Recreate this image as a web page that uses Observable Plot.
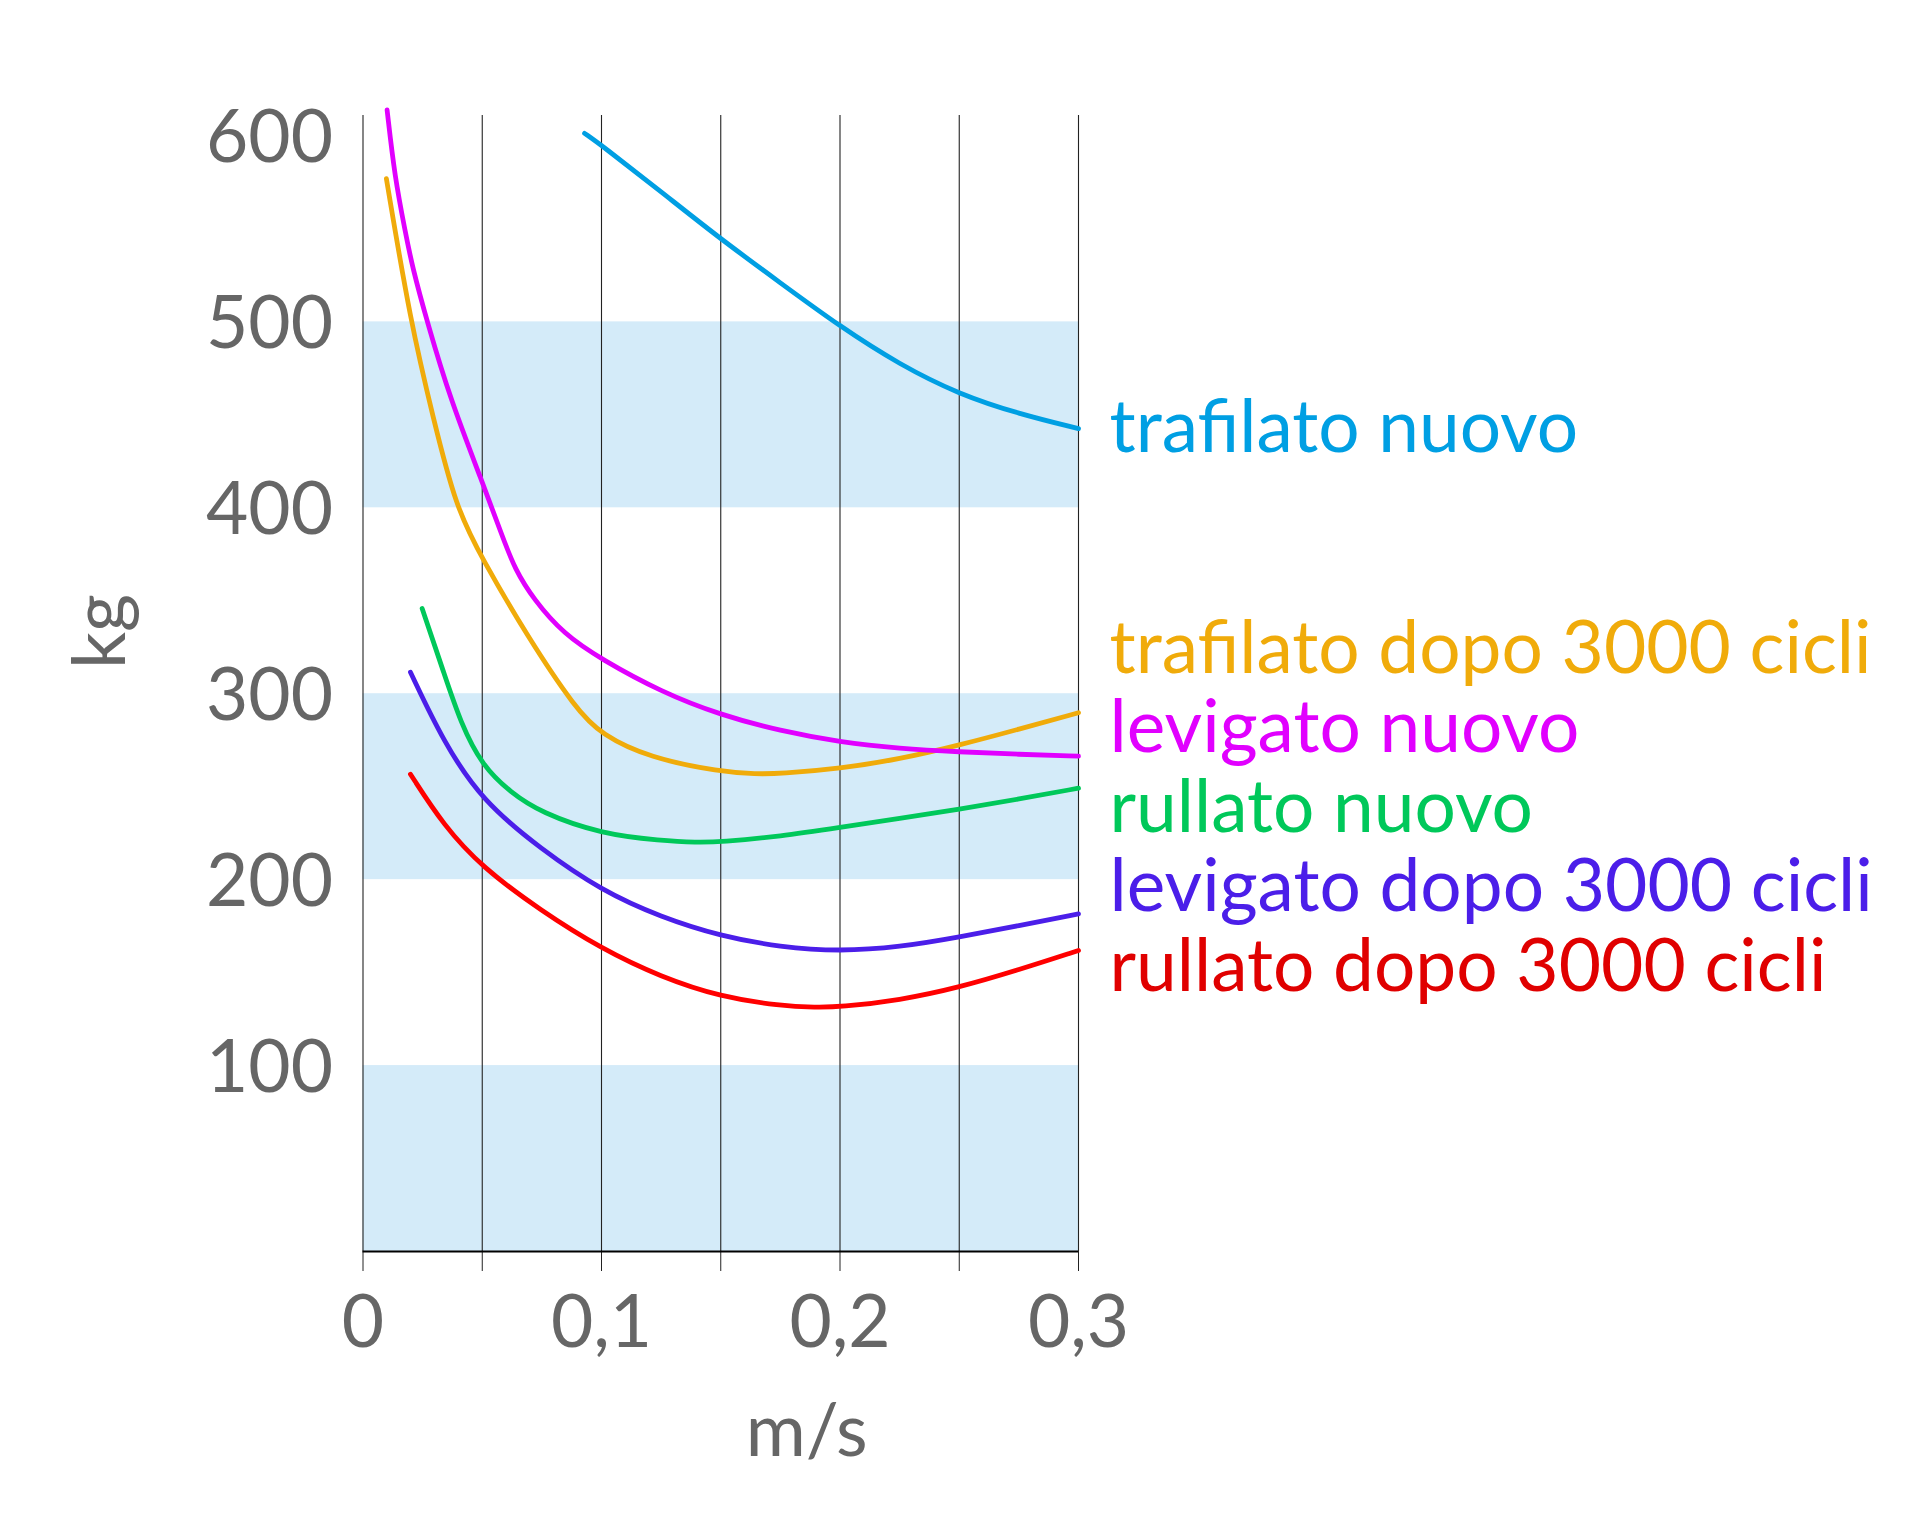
<!DOCTYPE html>
<html>
<head>
<meta charset="utf-8">
<script src="https://cdn.jsdelivr.net/npm/d3@7"></script>
<script src="https://cdn.jsdelivr.net/npm/@observablehq/plot@0.6"></script>
<style>
  html, body { margin: 0; padding: 0; background: #fff; }
  #chart svg { display: block; }
</style>
</head>
<body>
<div id="chart"></div>
<script>
// ---- data ----
const seriesNames = [
  "trafilato nuovo",
  "trafilato dopo 3000 cicli",
  "levigato nuovo",
  "rullato nuovo",
  "levigato dopo 3000 cicli",
  "rullato dopo 3000 cicli"
];
const lineColors = ["#009fe3", "#f0ab0a", "#e100ff", "#00c85a", "#4b1ee9", "#ff0000"];
const textColors = ["#009fe3", "#f0ab0a", "#e100ff", "#00c85a", "#4b1ee9", "#e00000"];

const trafilatoNuovoX = [0.0929, 0.1, 0.125, 0.15, 0.175, 0.2, 0.225, 0.25, 0.275, 0.3];
const trafilatoNuovoY = [601.4, 595, 570, 544.5, 521, 497.5, 477, 461, 450.5, 442.6];

const trafilatoDopoX = [0.0098, 0.0199, 0.0295, 0.039, 0.0498, 0.0688, 0.0894, 0.1, 0.12, 0.15, 0.165, 0.175, 0.2, 0.225, 0.25, 0.275, 0.3];
const trafilatoDopoY = [577, 500, 448, 400, 373, 331, 291.5, 278, 265.5, 258, 256.8, 257, 259.7, 264.8, 272.3, 280.9, 289.8];

const levigatoNuovoX = [0.0101, 0.0133, 0.0178, 0.0206, 0.0269, 0.0367, 0.05, 0.0586, 0.0637, 0.0714, 0.0842, 0.1, 0.125, 0.15, 0.175, 0.2, 0.225, 0.25, 0.275, 0.3];
const levigatoNuovoY = [614, 578, 548, 530, 500, 458, 414, 384, 367, 351, 332, 318.5, 301, 288.5, 280, 274, 270.5, 268.7, 267.4, 266.4];

const rullatoNuovoX = [0.0248, 0.0339, 0.0409, 0.05, 0.0619, 0.0745, 0.1, 0.125, 0.14, 0.15, 0.175, 0.2, 0.225, 0.25, 0.275, 0.3];
const rullatoNuovoY = [345.8, 311.3, 284.4, 261.2, 246.9, 236.1, 224.5, 221, 220, 220.3, 223.3, 228.1, 232.9, 237.9, 243.3, 249.2];

const levigatoDopoX = [0.0199, 0.0339, 0.05, 0.0745, 0.1, 0.125, 0.15, 0.175, 0.2, 0.225, 0.25, 0.275, 0.3];
const levigatoDopoY = [311.6, 273.7, 242.4, 216.5, 194.1, 179.8, 169.6, 163.7, 161.4, 163.7, 169.1, 175.3, 181.6];

const rullatoDopoX = [0.0199, 0.0339, 0.05, 0.0745, 0.1, 0.125, 0.15, 0.175, 0.19, 0.2, 0.225, 0.25, 0.275, 0.3];
const rullatoDopoY = [256.7, 229, 206.6, 183.4, 162.8, 147.6, 136.9, 132.1, 131.3, 131.5, 135.1, 142, 151.5, 161.9];

const bandLow = [0, 200, 400];
const bandHigh = [100, 300, 500];

const xTicks = [0, 0.05, 0.1, 0.15, 0.2, 0.25, 0.3];
const yTicks = [100, 200, 300, 400, 500, 600];
const xDomain = [0, 0.3];
const yDomain = [0, 611];
const xLabel = "m/s";
const yLabel = "kg";

// ---- build tables ----
const seriesX = [trafilatoNuovoX, trafilatoDopoX, levigatoNuovoX, rullatoNuovoX, levigatoDopoX, rullatoDopoX];
const seriesY = [trafilatoNuovoY, trafilatoDopoY, levigatoNuovoY, rullatoNuovoY, levigatoDopoY, rullatoDopoY];
const points = seriesNames.flatMap((name, i) =>
  seriesX[i].map((x, j) => ({series: name, x, y: seriesY[i][j]})));
const bands = bandLow.map((lo, i) => ({lo, hi: bandHigh[i]}));

// end-of-line labels, spread apart so they do not overlap
function spread(values, gap) {
  const order = values.map((v, i) => i).sort((a, b) => values[b] - values[a]);
  let groups = order.map(i => ({members: [i], center: values[i]}));
  let changed = true;
  while (changed) {
    changed = false;
    for (let k = 0; k < groups.length - 1; k++) {
      const a = groups[k], b = groups[k + 1];
      const aBottom = a.center - (a.members.length - 1) * gap / 2;
      const bTop = b.center + (b.members.length - 1) * gap / 2;
      if (aBottom - bTop < gap) {
        const members = a.members.concat(b.members);
        groups.splice(k, 2, {members, center: d3.mean(members, i => values[i])});
        changed = true;
        break;
      }
    }
  }
  const pos = [], grouped = [];
  for (const g of groups) g.members.forEach((i, j) => {
    pos[i] = g.center + ((g.members.length - 1) / 2 - j) * gap;
    grouped[i] = g.members.length > 1;
  });
  return {pos, grouped};
}
const endValues = seriesY.map(ys => ys[ys.length - 1]);
const spreadOut = spread(endValues, 42.8);
const labels = seriesNames.map((name, i) => ({
  name, y: spreadOut.pos[i], color: textColors[i], grouped: spreadOut.grouped[i]
}));

const fmtX = d => {
  const k = Math.round(d * 100);
  if (k % 10 !== 0) return "";
  return d === 0 ? "0" : d.toFixed(1).replace(".", ",");
};

const labelFont = 73;
const chart = Plot.plot({
  width: 1920,
  height: 1519,
  marginLeft: 362.5,
  marginRight: 842,
  marginTop: 115,
  marginBottom: 268,
  style: {fontFamily: "Lato, 'Noto Sans', sans-serif", fontSize: labelFont + "px", background: "#fff", overflow: "visible"},
  x: {domain: xDomain},
  y: {domain: yDomain},
  color: {domain: seriesNames, range: lineColors},
  marks: [
    Plot.rectY(bands, {x1: xDomain[0], x2: xDomain[1], y1: "lo", y2: "hi", fill: "#d4ebf9"}),
    Plot.ruleX(xTicks, {stroke: "#222", strokeWidth: 1.1}),
    Plot.axisX({ticks: xTicks, tickSize: 20, tickPadding: 24, tickFormat: fmtX, stroke: "#222", fill: "#666", fontSize: labelFont, label: null}),
    Plot.axisY({ticks: yTicks, tickSize: 0, tickPadding: 30, dy: 3, fill: "#666", fontSize: labelFont, label: null}),
    Plot.ruleY([0], {stroke: "#000", strokeWidth: 2}),
    Plot.line(points, {x: "x", y: "y", z: "series", stroke: "series", strokeWidth: 4.8, curve: "basis"}),
    Plot.text(labels.filter(d => !d.grouped), {x: xDomain[1], y: "y", text: "name", fill: "color", textAnchor: "start", lineAnchor: "middle", dx: 31, fontSize: labelFont}),
    Plot.text(labels.filter(d => d.grouped), {x: xDomain[1], y: "y", text: "name", fill: "color", textAnchor: "start", lineAnchor: "middle", dx: 31, dy: -16, fontSize: labelFont}),
    Plot.text([yLabel], {frameAnchor: "left", textAnchor: "middle", lineAnchor: "middle", dx: -261, dy: -52, rotate: -90, fill: "#666", fontSize: labelFont}),
    Plot.text([xLabel], {frameAnchor: "bottom", textAnchor: "middle", lineAnchor: "middle", dx: 86, dy: 181, fill: "#666", fontSize: labelFont})
  ]
});
document.getElementById("chart").append(chart);
</script>
</body>
</html>
